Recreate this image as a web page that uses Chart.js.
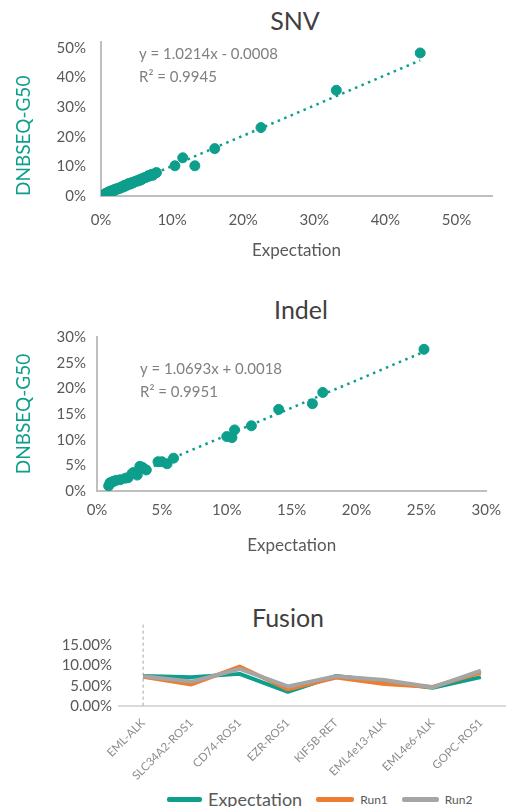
<!DOCTYPE html>
<html>
<head>
<meta charset="utf-8">
<script src="https://cdn.jsdelivr.net/npm/chart.js@4.4.1/dist/chart.umd.min.js"></script>
<style>
  body { margin: 0; background: #fff; width: 511px; height: 807px; position: relative; overflow: hidden; font-family: Lato, sans-serif; }
  canvas { position: absolute; left: 0; }
  .title { position: absolute; font-size: 25px; line-height: 30px; color: #404040; transform: translateX(-50%); white-space: nowrap; }
  #legend { position: absolute; top: 787px; left: 167px; height: 24px; display: flex; align-items: center; color: #595959; }
  #legend .item { display: flex; align-items: center; margin-right: 14px; }
  #legend .swatch { height: 5px; border-radius: 2px; margin-right: 6px; }
</style>
</head>
<body>
<div class="title" style="left:295px;top:5px">SNV</div>
<canvas id="snvChart" width="511" height="270" style="top:0"></canvas>
<div class="title" style="left:301px;top:294px">Indel</div>
<canvas id="indelChart" width="511" height="290" style="top:280px"></canvas>
<div class="title" style="left:288px;top:602px">Fusion</div>
<canvas id="fusionChart" width="511" height="185" style="top:600px"></canvas>
<div id="legend"></div>

<script>
// SNV: expected vs measured allele frequency (%)
const snvX = [0.4, 0.5, 0.6, 0.7, 0.8, 0.9, 1.0, 1.1, 1.2, 1.4, 1.5, 1.7, 1.8, 2.0, 2.1, 2.3, 2.5, 2.7, 2.9, 3.1,
              3.3, 3.5, 3.7, 3.9, 4.1, 4.3, 4.5, 4.7, 4.9, 5.1, 5.3, 5.5, 5.7, 5.9, 6.1, 6.3, 6.5, 6.7, 6.9, 7.1,
              7.3, 7.5, 7.8, 10.4, 11.5, 13.2, 16.0, 22.5, 33.1, 44.9];
const snvY = [0.5, 0.3, 0.8, 0.6, 1.0, 0.8, 1.3, 1.0, 1.5, 1.3, 1.8, 1.6, 2.1, 2.0, 2.4, 2.3, 2.7, 2.6, 3.1, 3.0,
              3.6, 3.4, 3.9, 4.2, 4.0, 4.5, 4.4, 4.8, 4.9, 5.2, 5.1, 5.6, 5.5, 6.0, 6.1, 6.3, 6.5, 6.9, 6.8, 7.3,
              7.0, 7.5, 7.9, 10.2, 12.9, 10.2, 16.0, 23.1, 35.7, 48.3];
const snvTrendX = [0.4, 44.9];
const snvTrendY = [0.33, 45.78];
const snvEquation = ['y = 1.0214x - 0.0008', 'R² = 0.9945'];
const snvXTicks = [0, 10, 20, 30, 40, 50];
const snvYTicks = [0, 10, 20, 30, 40, 50];

// Indel
const indelX = [0.9, 1.0, 1.2, 1.3, 1.5, 1.8, 2.2, 2.4, 2.7, 2.8, 3.1, 3.3, 3.5, 3.6, 3.8, 4.7, 5.0, 5.4, 5.9,
                10.0, 10.4, 10.6, 11.9, 14.0, 16.6, 17.4, 25.2];
const indelY = [1.0, 1.6, 1.8, 1.9, 2.1, 2.2, 2.5, 2.6, 3.4, 3.6, 3.1, 4.8, 4.6, 4.4, 4.1, 5.7, 5.7, 5.3, 6.4,
                10.6, 10.4, 11.9, 12.7, 15.9, 17.0, 19.2, 27.6];
const indelTrendX = [0.9, 25.2];
const indelTrendY = [1.14, 27.12];
const indelEquation = ['y = 1.0693x + 0.0018', 'R² = 0.9951'];
const indelTicks = [0, 5, 10, 15, 20, 25, 30];

// Fusion
const fusionLabels = ['EML-ALK', 'SLC34A2-ROS1', 'CD74-ROS1', 'EZR-ROS1', 'KIF5B-RET', 'EML4e13-ALK', 'EML4e6-ALK', 'GOPC-ROS1'];
const fusionExpectation = [7.4, 7.1, 7.9, 3.5, 7.4, 6.0, 4.5, 7.1];
const fusionRun1 = [7.2, 5.3, 9.7, 4.1, 7.0, 5.4, 4.7, 8.2];
const fusionRun2 = [7.3, 6.0, 9.1, 4.8, 7.3, 6.4, 4.6, 8.7];
const fusionYTicks = [0, 5, 10, 15];

const TEAL = '#0d9e8c';
const ORANGE = '#ed7d31';
const GREY = '#a5a5a5';
const AXIS = '#bfbfbf';
const TICK = '#595959';

// writes the regression text in the upper-left of the plot
const equationPlugin = {
  id: 'equation',
  afterDraw(chart, args, opts) {
    const { ctx, chartArea } = chart;
    ctx.save();
    ctx.font = '15px Lato';
    ctx.fillStyle = '#808080';
    ctx.textBaseline = 'middle';
    opts.lines.forEach((t, i) => ctx.fillText(t, chartArea.left + opts.dx, chartArea.top + opts.dy + i * 23));
    ctx.restore();
  }
};

function scatterChart(id, xs, ys, tx, ty, eq, o) {
  return new Chart(document.getElementById(id), {
    type: 'scatter',
    data: {
      datasets: [
        { data: xs.map((x, i) => ({ x, y: ys[i] })), backgroundColor: TEAL, borderColor: TEAL, pointRadius: 5, pointHoverRadius: 5 },
        { data: tx.map((x, i) => ({ x, y: ty[i] })), showLine: true, borderColor: TEAL, borderWidth: 2.5,
          borderDash: [2.5, 4.5], pointRadius: 0, fill: false }
      ]
    },
    options: {
      responsive: false,
      animation: false,
      layout: { padding: { top: o.top, right: o.right, left: 0, bottom: 0 } },
      plugins: {
        legend: { display: false },
        tooltip: { enabled: false },
        equation: { lines: eq, dx: o.eqDx, dy: o.eqDy }
      },
      scales: {
        x: {
          type: 'linear', min: 0, max: o.xMax,
          afterBuildTicks: s => { s.ticks = o.xTicks.map(v => ({ value: v })); },
          ticks: { callback: v => v + '%', color: TICK, font: { size: 15, family: 'Lato' }, padding: o.xPad },
          grid: { display: false, drawTicks: false },
          border: { color: AXIS, width: 2 },
          title: { display: true, text: 'Expectation', color: TICK, font: { size: 17, family: 'Lato' }, padding: { top: 0, bottom: o.xTitlePad } },
          afterFit: s => { s.height = o.xH; }
        },
        y: {
          type: 'linear', min: 0, max: o.yMax,
          afterBuildTicks: s => { s.ticks = o.yTicks.map(v => ({ value: v })); },
          ticks: { callback: v => v + '%', color: TICK, font: { size: 15, family: 'Lato' }, padding: o.yPad },
          grid: { display: false, drawTicks: false },
          border: { color: AXIS, width: 2 },
          title: { display: true, text: 'DNBSEQ-G50', align: o.yTitleAlign, color: TEAL, font: { size: 19, family: 'Lato' }, padding: { top: 12, bottom: 0 } },
          afterFit: s => { s.width = o.yW; }
        }
      }
    },
    plugins: [equationPlugin]
  });
}

scatterChart('snvChart', snvX, snvY, snvTrendX, snvTrendY, snvEquation, {
  top: 42, right: 19, xH: 74, yW: 101, xMax: 55, yMax: 52, xTicks: snvXTicks, yTicks: snvYTicks,
  xPad: 15, yPad: 15, xTitlePad: 9, eqDx: 38, eqDy: 12, yTitleAlign: 'start'
});

scatterChart('indelChart', indelX, indelY, indelTrendX, indelTrendY, indelEquation, {
  top: 57, right: 22, xH: 79, yW: 97, xMax: 30, yMax: 30, xTicks: indelTicks, yTicks: indelTicks,
  xPad: 10, yPad: 11, xTitlePad: 14, eqDx: 43, eqDy: 32, yTitleAlign: 'center'
});

// dashed vertical marker at the first category
const firstCategoryLine = {
  id: 'firstCategoryLine',
  beforeDatasetsDraw(chart) {
    const { ctx, scales } = chart;
    const x = scales.x.getPixelForValue(0);
    ctx.save();
    ctx.strokeStyle = '#a6a6a6';
    ctx.lineWidth = 1;
    ctx.setLineDash([3, 3]);
    ctx.beginPath();
    ctx.moveTo(x, scales.y.getPixelForValue(20));
    ctx.lineTo(x, scales.y.getPixelForValue(0));
    ctx.stroke();
    ctx.restore();
  }
};

const fusionChart = new Chart(document.getElementById('fusionChart'), {
  type: 'line',
  data: {
    labels: fusionLabels,
    datasets: [
      { label: 'Expectation', data: fusionExpectation, borderColor: TEAL, order: 3 },
      { label: 'Run1', data: fusionRun1, borderColor: ORANGE, order: 2 },
      { label: 'Run2', data: fusionRun2, borderColor: GREY, order: 1 }
    ]
  },
  options: {
    responsive: false,
    animation: false,
    layout: { padding: { top: 45, right: 6, left: 0, bottom: 0 } },
    elements: { line: { borderWidth: 4, tension: 0, borderJoinStyle: 'round' }, point: { radius: 0 } },
    plugins: { legend: { display: false }, tooltip: { enabled: false } },
    scales: {
      x: {
        offset: true,
        grid: { display: false, drawTicks: false },
        border: { color: '#d9d9d9', width: 2 },
        ticks: { minRotation: 45, maxRotation: 45, color: '#8c8c8c', font: { size: 11.5, family: 'Lato' }, padding: 10, autoSkip: false },
        afterFit: s => { s.height = 79; }
      },
      y: {
        min: 0, max: 15,
        afterBuildTicks: s => { s.ticks = fusionYTicks.map(v => ({ value: v })); },
        ticks: { callback: v => v.toFixed(2) + '%', color: TICK, font: { size: 15, family: 'Lato' }, padding: 7, autoSkip: false },
        grid: { display: false, drawTicks: false },
        border: { display: false },
        afterFit: s => { s.width = 119; }
      }
    }
  },
  plugins: [firstCategoryLine]
});

// html legend with the mixed label sizes of the original
const legendSizes = [18, 12, 12];
const legendSwatch = [35, 38, 37];
const legend = document.getElementById('legend');
fusionChart.data.datasets.forEach((ds, i) => {
  const item = document.createElement('div');
  item.className = 'item';
  item.innerHTML = `<span class="swatch" style="width:${legendSwatch[i]}px;background:${ds.borderColor}"></span>` +
                   `<span style="font-size:${legendSizes[i]}px">${ds.label}</span>`;
  legend.appendChild(item);
});
</script>
</body>
</html>
